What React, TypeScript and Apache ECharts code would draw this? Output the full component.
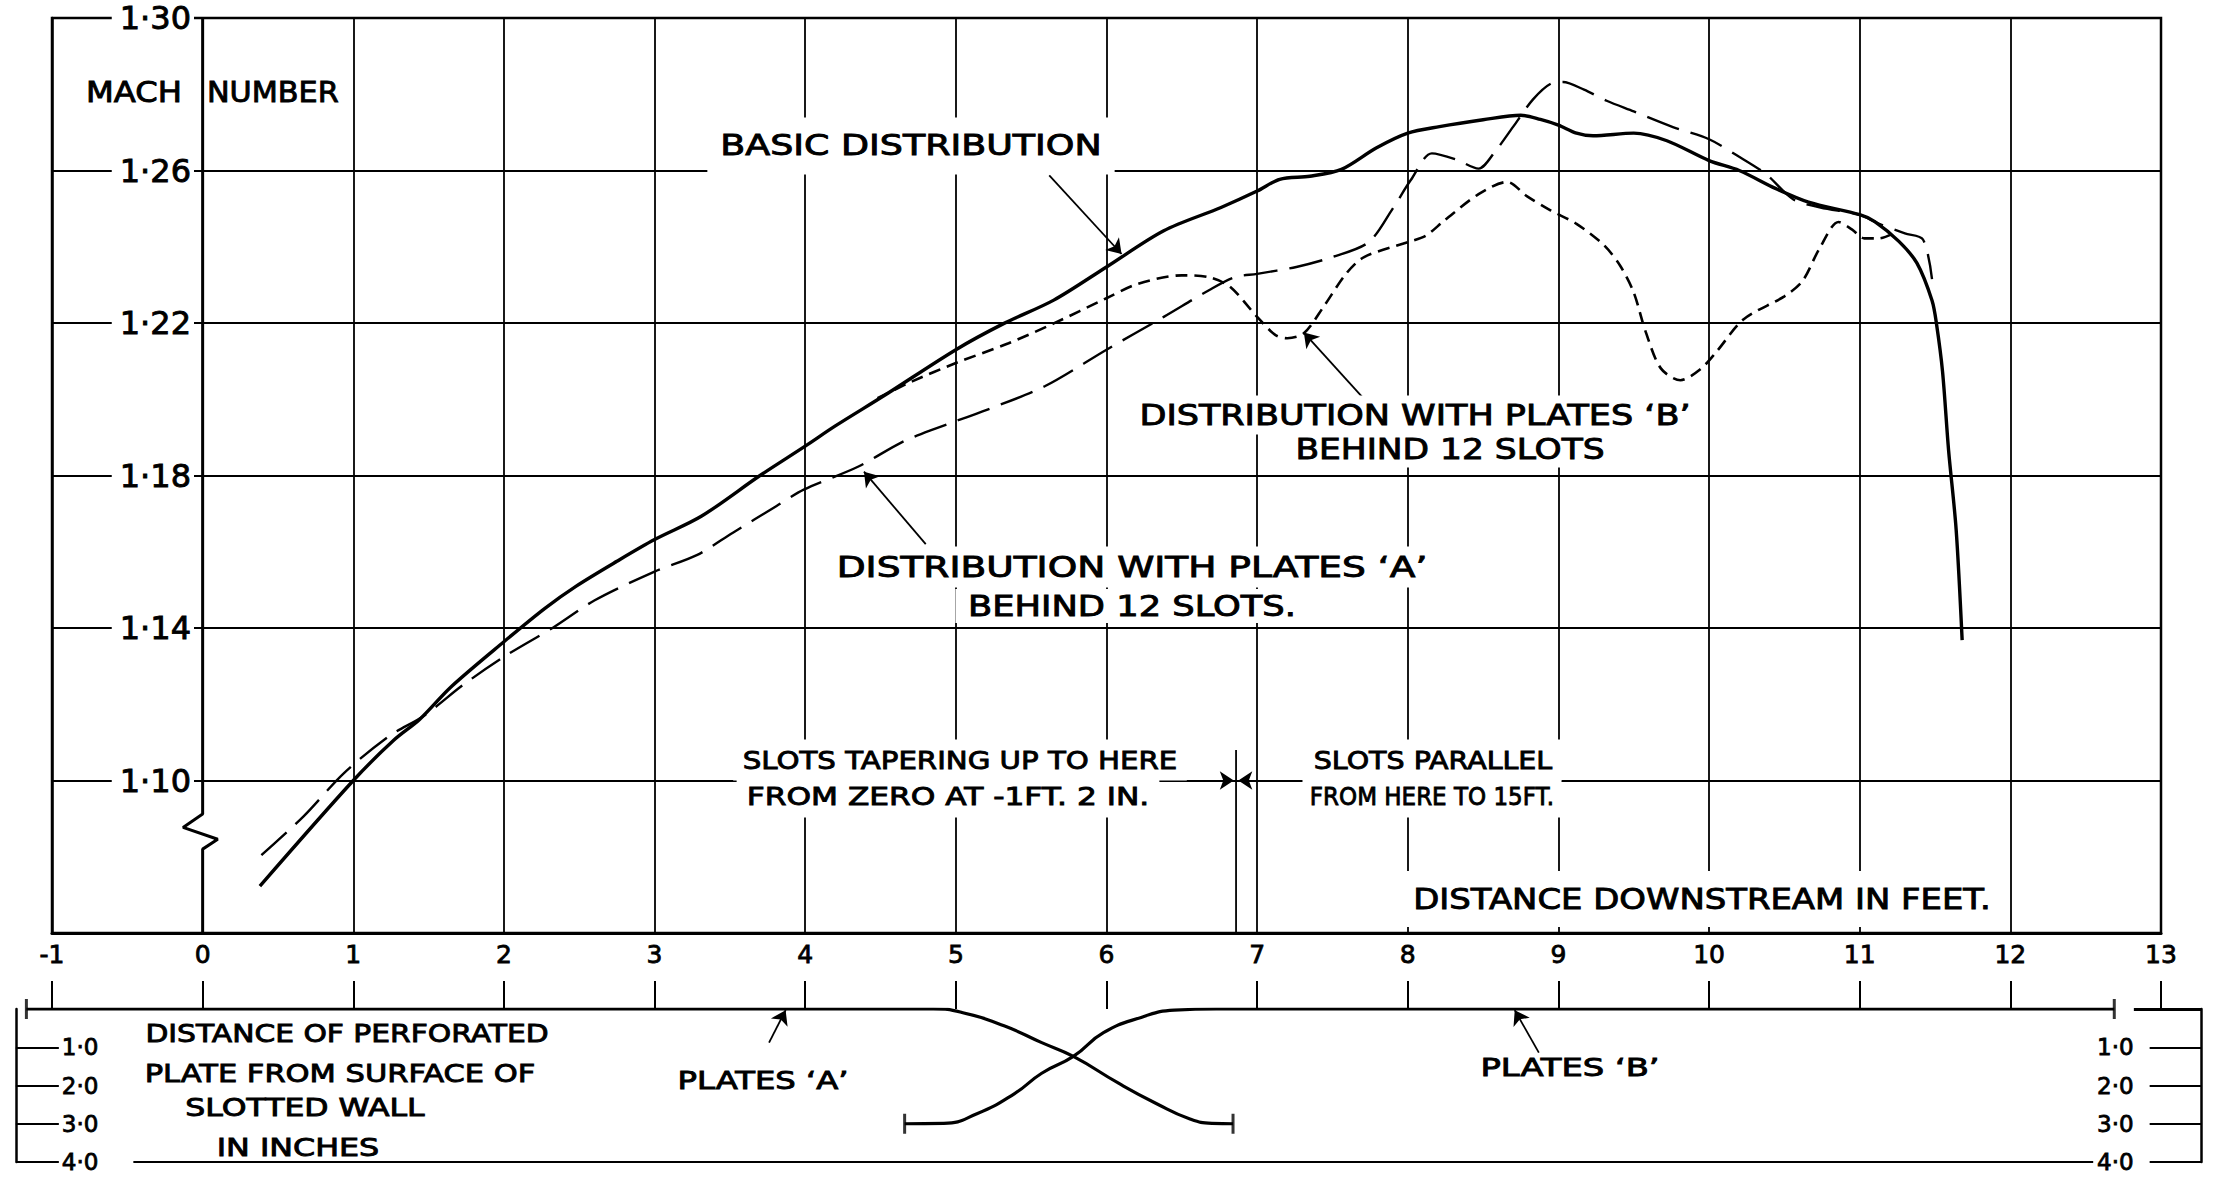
import React, { useEffect, useRef } from 'react';
import * as echarts from 'echarts';

const FF = "'DejaVu Sans', 'Liberation Sans', sans-serif";

// ---- main chart: Mach number vs distance downstream (ft) ----
const xTicks = [-1, 0, 1, 2, 3, 4, 5, 6, 7, 8, 9, 10, 11, 12, 13];

const basicX = [0.38, 1.0, 1.27, 1.44, 1.65, 2.0, 2.27, 2.48, 2.75, 3.0, 3.31, 3.7, 4.0, 4.2, 4.53, 5.0, 5.32, 5.65, 6.0, 6.38, 6.76, 7.0, 7.15, 7.35, 7.56, 7.79, 8.0, 8.21, 8.5, 8.75, 8.88, 9.0, 9.12, 9.23, 9.5, 9.72, 10.0, 10.2, 10.44, 10.66, 11.0, 11.1, 11.26, 11.38, 11.48, 11.51, 11.55, 11.59, 11.64, 11.68];
const basicY = [1.0723, 1.1, 1.1106, 1.116, 1.1246, 1.1364, 1.1451, 1.151, 1.1575, 1.1632, 1.1693, 1.18, 1.1877, 1.193, 1.2011, 1.213, 1.2199, 1.226, 1.2347, 1.2442, 1.2503, 1.2546, 1.2577, 1.2585, 1.2603, 1.2659, 1.2698, 1.2715, 1.2733, 1.2745, 1.2734, 1.2719, 1.2698, 1.2691, 1.2698, 1.2678, 1.2626, 1.26, 1.2553, 1.2517, 1.2484, 1.2466, 1.2414, 1.2357, 1.2259, 1.2197, 1.2072, 1.1866, 1.1659, 1.1368];

const platesAX = [0.39, 0.67, 0.94, 1.24, 1.47, 1.73, 2.01, 2.33, 2.6, 3.0, 3.28, 3.52, 3.81, 3.99, 4.35, 4.64, 4.85, 5.21, 5.59, 6.0, 6.38, 6.68, 6.85, 7.0, 7.26, 7.5, 7.74, 7.9, 8.02, 8.16, 8.32, 8.47, 8.58, 8.7, 8.83, 8.95, 9.03, 9.17, 9.32, 9.5, 9.76, 10.0, 10.2, 10.38, 10.56, 10.74, 11.0, 11.13, 11.3, 11.42, 11.48];
const platesAY = [1.0804, 1.0906, 1.102, 1.1117, 1.117, 1.1251, 1.1327, 1.1402, 1.1472, 1.1548, 1.1591, 1.165, 1.172, 1.1763, 1.1823, 1.1887, 1.1921, 1.1973, 1.2034, 1.213, 1.2216, 1.2286, 1.232, 1.2329, 1.2347, 1.2373, 1.2412, 1.25, 1.2575, 1.2645, 1.2629, 1.2605, 1.265, 1.2715, 1.2786, 1.2828, 1.2832, 1.2812, 1.2783, 1.2755, 1.2714, 1.2682, 1.2636, 1.259, 1.2524, 1.2503, 1.2484, 1.246, 1.2435, 1.2419, 1.2315];

const platesBX = [4.48, 4.71, 5.0, 5.35, 5.65, 6.0, 6.21, 6.5, 6.68, 6.82, 7.0, 7.12, 7.2, 7.31, 7.44, 7.59, 7.71, 8.0, 8.12, 8.24, 8.47, 8.66, 8.79, 8.95, 9.12, 9.3, 9.41, 9.5, 9.58, 9.68, 9.81, 9.94, 10.05, 10.23, 10.5, 10.62, 10.73, 10.86, 10.95, 11.03, 11.13, 11.22];
const platesBY = [1.2003, 1.2047, 1.2095, 1.2147, 1.2199, 1.2265, 1.2303, 1.2325, 1.232, 1.2295, 1.2216, 1.2169, 1.216, 1.2173, 1.2242, 1.2329, 1.2373, 1.2412, 1.2429, 1.2468, 1.2538, 1.257, 1.2533, 1.2495, 1.246, 1.2405, 1.235, 1.228, 1.2176, 1.2081, 1.205, 1.2078, 1.2125, 1.221, 1.227, 1.231, 1.2393, 1.2465, 1.2445, 1.2422, 1.2422, 1.2434];

// broken y-axis line at x = 0
const breakX = [0, 0, -0.13, 0.1, 0, 0];
const breakY = [1.3, 1.0912, 1.0877, 1.0846, 1.082, 1.06];

// "slots tapering up to here" marker
const slotMarkX = [6.86, 6.86];
const slotMarkY = [1.06, 1.108];
const slotArrowLeft = [[6.42, 1.1], [6.845, 1.1]];
const slotArrowRight = [[7.3, 1.1], [6.875, 1.1]];

// leader arrows (tail -> tip)
const basicArrow = [[5.62, 1.2587], [6.1, 1.2381]];
const platesAArrow = [[4.8, 1.162], [4.39, 1.181]];
const platesBArrow = [[7.7, 1.2005], [7.31, 1.2175]];

// ---- lower panel: plate distance from slotted wall (in) ----
const depthTicks = [1, 2, 3, 4];
const plateAX = [-1.17, 4.6, 4.85, 5.04, 5.32, 5.57, 5.78, 6.08, 6.33, 6.55, 6.7, 6.84];
const plateAD = [0, 0, 0, 0.09, 0.44, 0.88, 1.24, 1.94, 2.47, 2.87, 2.99, 3.0];
const plateBX = [4.66, 4.92, 5.14, 5.39, 5.57, 5.78, 5.98, 6.23, 6.45, 6.73, 7.0, 12.69];
const plateBD = [3.0, 2.99, 2.74, 2.21, 1.68, 1.24, 0.62, 0.22, 0.03, 0, 0, 0];
const plateEndX = [-1.17, 6.84, 4.66, 12.69];
const plateEndD = [0, 3.0, 3.0, 0];
const panelBottom = [[-0.46, 4], [12.55, 4]];
const panelTopRight = [[12.82, 0], [13.27, 0]];
const plateALeader = [[3.76, 0.88], [3.87, 0.03]];
const plateBLeader = [[8.87, 1.14], [8.71, 0.03]];

const zip = (xs: number[], ys: number[]) => xs.map((x, i) => [x, ys[i]]);
const dot = (v: number, d: number) => v.toFixed(d).replace('.', '\u00b7');

const arrowLine = (seg: number[][]) => [{ coord: seg[0] }, { coord: seg[1] }];
const plainLine = (seg: number[][], w: number) => [
  { coord: seg[0], symbol: 'none', lineStyle: { width: w, color: '#000', type: 'solid' } },
  { coord: seg[1], symbol: 'none' },
];

const markBase = {
  silent: true,
  animation: false,
  symbol: ['none', 'arrow'],
  symbolSize: 14,
  label: { show: false },
  emphasis: { disabled: true },
  lineStyle: { color: '#000', width: 1.8, type: 'solid' },
};

const txt = (t: string, x: number, y: number, size: number, sx: number, pad?: number[], align = 'center') => ({
  type: 'text',
  x,
  y,
  scaleX: sx,
  z: 50,
  silent: true,
  style: {
    text: t,
    fontSize: size,
    fontFamily: FF,
    fill: '#000',
    stroke: '#000',
    lineWidth: 0.9,
    align,
    verticalAlign: 'middle',
    ...(pad ? { backgroundColor: '#fff', padding: pad } : {}),
  },
});

const splitColors = xTicks.map((v) => (v === 0 ? 'rgba(0,0,0,0)' : '#000'));

const option: any = {
  animation: false,
  backgroundColor: '#fff',
  grid: [
    { left: 52, top: 15, width: 2109, height: 918, show: true, borderColor: '#000', borderWidth: 2.5, backgroundColor: 'rgba(0,0,0,0)' },
    { left: 15.85, top: 1009, width: 2185.8, height: 153, show: false },
  ],
  xAxis: [
    {
      type: 'value', gridIndex: 0, min: -1, max: 13, interval: 1,
      axisLine: { show: true, onZero: false, lineStyle: { color: '#000', width: 3 } },
      axisTick: { show: false },
      axisLabel: { color: '#000', fontSize: 25, fontFamily: FF, margin: 9, textBorderColor: '#000', textBorderWidth: 0.8 },
      splitLine: { show: true, lineStyle: { color: splitColors, width: 1.8 } },
    },
    {
      type: 'value', gridIndex: 1, min: -1.24, max: 13.27, position: 'top',
      axisLine: { show: false, onZero: false },
      axisTick: { show: true, length: 28, customValues: xTicks, lineStyle: { color: '#000', width: 2 } },
      axisLabel: { show: false },
      splitLine: { show: false },
    },
  ],
  yAxis: [
    {
      type: 'value', gridIndex: 0, min: 1.06, max: 1.3, interval: 0.04, z: 3,
      axisLine: { show: true, onZero: false, lineStyle: { color: '#000', width: 2.5 } },
      axisTick: { show: false },
      axisLabel: {
        inside: true, align: 'right', margin: 142, fontSize: 32, fontFamily: FF, color: '#000',
        textBorderColor: '#000', textBorderWidth: 0.9,
        backgroundColor: '#fff', padding: [2, 3, 2, 8], showMinLabel: false, showMaxLabel: true,
        formatter: (v: number) => dot(v, 2),
      },
      splitLine: { show: true, lineStyle: { color: '#000', width: 1.8 } },
    },
    {
      type: 'value', gridIndex: 1, min: 0, max: 4, interval: 1, inverse: true, position: 'left',
      axisLine: { show: true, onZero: false, lineStyle: { color: '#000', width: 2.5 } },
      axisTick: { show: true, inside: true, length: 43, customValues: depthTicks, lineStyle: { color: '#000', width: 2 } },
      axisLabel: { inside: true, align: 'left', margin: 46, fontSize: 23, fontFamily: FF, color: '#000', textBorderColor: '#000', textBorderWidth: 0.8, customValues: depthTicks, formatter: (v: number) => dot(v, 1) },
      splitLine: { show: false },
    },
    {
      type: 'value', gridIndex: 1, min: 0, max: 4, interval: 1, inverse: true, position: 'right',
      axisLine: { show: true, onZero: false, lineStyle: { color: '#000', width: 2.5 } },
      axisTick: { show: true, inside: true, length: 52, customValues: depthTicks, lineStyle: { color: '#000', width: 2 } },
      axisLabel: { inside: true, align: 'right', margin: 68, fontSize: 23, fontFamily: FF, color: '#000', textBorderColor: '#000', textBorderWidth: 0.8, customValues: depthTicks, formatter: (v: number) => dot(v, 1) },
      splitLine: { show: false },
    },
  ],
  series: [
    {
      name: 'Basic distribution', type: 'line', xAxisIndex: 0, yAxisIndex: 0, data: zip(basicX, basicY),
      smooth: 0.3, symbol: 'none', silent: true, z: 5, lineStyle: { color: '#000', width: 3.4 },
    },
    {
      name: "Distribution with plates 'A' behind 12 slots", type: 'line', xAxisIndex: 0, yAxisIndex: 0,
      data: zip(platesAX, platesAY), smooth: 0.3, symbol: 'none', silent: true, z: 5,
      lineStyle: { color: '#000', width: 2.4, type: [34, 12] },
    },
    {
      name: "Distribution with plates 'B' behind 12 slots", type: 'line', xAxisIndex: 0, yAxisIndex: 0,
      data: zip(platesBX, platesBY), smooth: 0.3, symbol: 'none', silent: true, z: 5,
      lineStyle: { color: '#000', width: 2.6, type: [12, 7] },
    },
    {
      name: 'axis break', type: 'line', xAxisIndex: 0, yAxisIndex: 0, data: zip(breakX, breakY),
      symbol: 'none', silent: true, z: 4, lineStyle: { color: '#000', width: 3 },
    },
    {
      name: 'slot marker', type: 'line', xAxisIndex: 0, yAxisIndex: 0, data: zip(slotMarkX, slotMarkY),
      symbol: 'none', silent: true, z: 4, lineStyle: { color: '#000', width: 1.8 },
      markLine: {
        ...markBase,
        data: [
          arrowLine(slotArrowLeft),
          arrowLine(slotArrowRight),
          arrowLine(basicArrow),
          arrowLine(platesAArrow),
          arrowLine(platesBArrow),
        ],
      },
    },
    {
      name: "Plates 'A'", type: 'line', xAxisIndex: 1, yAxisIndex: 1, data: zip(plateAX, plateAD),
      smooth: 0.5, symbol: 'none', silent: true, lineStyle: { color: '#000', width: 3.2 },
      markLine: {
        ...markBase,
        data: [
          plainLine(panelBottom, 2),
          plainLine(panelTopRight, 3),
          arrowLine(plateALeader),
          arrowLine(plateBLeader),
        ],
      },
    },
    {
      name: "Plates 'B'", type: 'line', xAxisIndex: 1, yAxisIndex: 1, data: zip(plateBX, plateBD),
      smooth: 0.5, symbol: 'none', silent: true, lineStyle: { color: '#000', width: 3.2 },
    },
    {
      name: 'plate ends', type: 'scatter', xAxisIndex: 1, yAxisIndex: 1, data: zip(plateEndX, plateEndD),
      symbol: 'rect', symbolSize: [3, 20], silent: true, itemStyle: { color: '#000' },
    },
  ],
  graphic: [
    txt('MACH', 182, 92, 28, 1.15, undefined, 'right'),
    txt('NUMBER', 207, 92, 28, 1.08, undefined, 'left'),
    txt('BASIC DISTRIBUTION', 911, 146, 28, 1.3, [26, 10, 3, 10]),
    txt('DISTRIBUTION WITH PLATES \u2018B\u2019', 1415, 415, 28, 1.25, [8, 10, 3, 10]),
    txt('BEHIND 12 SLOTS', 1450, 449, 28, 1.23, [3, 10, 6, 10]),
    txt('DISTRIBUTION WITH PLATES \u2018A\u2019', 1132, 567, 28, 1.34, [10, 10, 3, 10]),
    txt('BEHIND 12 SLOTS.', 1132, 606, 28, 1.26, [3, 10, 3, 10]),
    txt('SLOTS TAPERING UP TO HERE', 960, 760, 25, 1.17, [14, 8, 2, 8]),
    txt('FROM ZERO AT -1FT. 2 IN.', 948, 797, 25, 1.25, [2, 8, 14, 8]),
    txt('SLOTS PARALLEL', 1433, 760, 25, 1.14, [14, 8, 2, 8]),
    txt('FROM HERE TO 15FT.', 1432, 797, 25, 0.92, [2, 8, 14, 8]),
    txt('DISTANCE DOWNSTREAM IN FEET.', 1702, 899, 28, 1.21, [20, 10, 8, 10]),
    txt('DISTANCE OF PERFORATED', 347, 1033, 25, 1.19),
    txt('PLATE FROM SURFACE OF', 340, 1073, 25, 1.22),
    txt('SLOTTED WALL', 305, 1108, 25, 1.26),
    txt('IN INCHES', 298, 1147, 25, 1.27),
    txt('PLATES \u2018A\u2019', 763, 1080, 25, 1.29),
    txt('PLATES \u2018B\u2019', 1570, 1067, 25, 1.35),
  ],
};

export default function App() {
  const ref = useRef<HTMLDivElement>(null);
  useEffect(() => {
    if (!ref.current) return;
    const chart = echarts.init(ref.current, null, { renderer: 'svg' });
    chart.setOption(option);
    return () => chart.dispose();
  }, []);
  return (
    <div
      ref={ref}
      style={{ position: 'fixed', left: 0, top: 0, width: 2218, height: 1177, background: '#fff' }}
    />
  );
}
